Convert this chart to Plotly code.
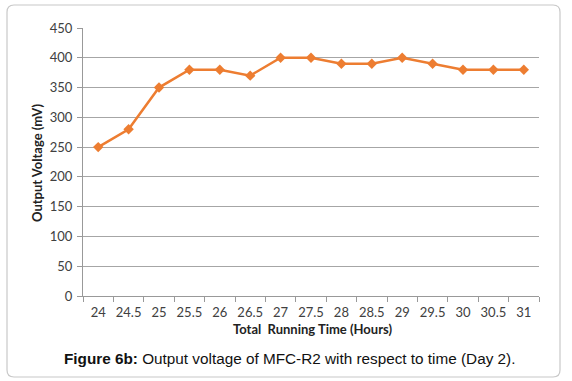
import plotly.graph_objects as go

hours = ["24", "24.5", "25", "25.5", "26", "26.5", "27", "27.5", "28", "28.5", "29", "29.5", "30", "30.5", "31"]
voltage_mv = [250, 280, 350, 380, 380, 370, 400, 400, 390, 390, 400, 390, 380, 380, 380]
y_ticks = [0, 50, 100, 150, 200, 250, 300, 350, 400, 450]

W, H = 572, 381
ML, MR, MT, MB = 83, 33, 28, 85
PW, PH = W - ML - MR, H - MT - MB

def px(x):
    return (x - ML) / PW

def py(y):
    return (H - MB - y) / PH

fig = go.Figure()
fig.add_trace(go.Scatter(
    x=hours, y=voltage_mv, mode="lines+markers",
    line=dict(color="#ED7D31", width=2.5),
    marker=dict(symbol="diamond", size=8, color="#ED7D31"),
    showlegend=False,
))

# rounded outer frame
x0, x1, y0, y1, r = 7, 560, 5, 377, 7
path = (
    f"M {px(x0 + r)} {py(y0)} L {px(x1 - r)} {py(y0)} "
    f"Q {px(x1)} {py(y0)} {px(x1)} {py(y0 + r)} "
    f"L {px(x1)} {py(y1 - r)} Q {px(x1)} {py(y1)} {px(x1 - r)} {py(y1)} "
    f"L {px(x0 + r)} {py(y1)} Q {px(x0)} {py(y1)} {px(x0)} {py(y1 - r)} "
    f"L {px(x0)} {py(y0 + r)} Q {px(x0)} {py(y0)} {px(x0 + r)} {py(y0)} Z"
)
fig.add_shape(type="path", path=path, xref="paper", yref="paper",
              line=dict(color="#C8C8C8", width=1.2), layer="below")

fig.add_annotation(
    text="<b>Figure 6b:</b> Output voltage of MFC-R2 with respect to time (Day 2).",
    xref="paper", yref="paper", x=px(289), y=py(358), showarrow=False,
    font=dict(family="Liberation Sans, Arial", size=15.3, color="#111111"),
    xanchor="center", yanchor="middle",
)
fig.add_annotation(
    text="<b>Total  Running Time (Hours)</b>",
    xref="paper", yref="paper", x=px(312), y=py(329), showarrow=False,
    font=dict(size=13, color="#222222"), xanchor="center", yanchor="middle",
)
fig.add_annotation(
    text="<b>Output Voltage (mV)</b>", textangle=-90,
    xref="paper", yref="paper", x=px(37), y=py(163), showarrow=False,
    font=dict(size=13, color="#222222"), xanchor="center", yanchor="middle",
)

fig.update_layout(
    width=W, height=H,
    margin=dict(l=ML, r=MR, t=MT, b=MB),
    paper_bgcolor="white", plot_bgcolor="white",
    font=dict(family="Lato, Carlito, Calibri, sans-serif", size=12, color="#404040"),
    xaxis=dict(
        type="category", range=[-0.5, len(hours) - 0.5],
        tickson="boundaries", ticks="outside", ticklen=5,
        tickcolor="#999999", showline=True, linecolor="#999999", linewidth=1,
        showgrid=False, tickangle=0, automargin=False, ticklabelstandoff=4,
        tickfont=dict(size=13, color="#404040"),
    ),
    yaxis=dict(
        range=[0, 450], tickvals=y_ticks, ticks="outside", ticklen=5,
        tickcolor="#999999", showline=True, linecolor="#999999", linewidth=1,
        showgrid=True, gridcolor="#A6A6A6", gridwidth=1, zeroline=False,
        automargin=False, ticklabelstandoff=2,
        tickfont=dict(size=13, color="#404040"),
    ),
)

fig.write_html(
    "out.html",
    config={"displayModeBar": False},
    post_script="document.body.style.margin='0';document.body.style.padding='0';document.body.style.overflow='hidden';",
)
